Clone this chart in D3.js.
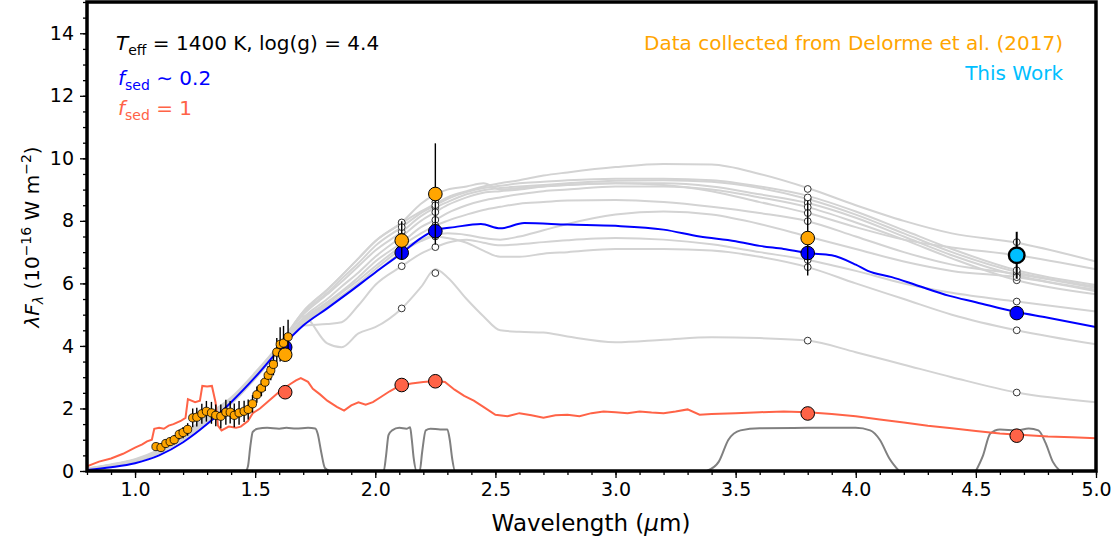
<!DOCTYPE html>
<html><head><meta charset="utf-8">
<script src="https://cdn.jsdelivr.net/npm/d3@7"></script>
<style>
html,body{margin:0;padding:0;background:#fff;}
svg{display:block;font-family:"DejaVu Sans",sans-serif;}
</style></head>
<body><svg id="c" width="1117" height="541"></svg>
<script>
// ---------------- DATA ----------------
const modelGrid = [0.8,0.9,1.0,1.1,1.2,1.3,1.4,1.5,1.6,1.7,1.8,1.86,1.93,2.0,2.11,2.19,2.25,2.3,2.38,2.45,2.52,2.6,2.7,2.8,3.0,3.2,3.4,3.6,3.8,4.0,4.2,4.4,4.67,5.0];
const grayModel1  = [0.07,0.18,0.33,0.6,1.05,1.65,2.25,3.05,3.95, 5.1,5.8,6.25,6.8,7.35,7.93,8.3,8.55,8.75,8.95,9.1,9.2,9.3,9.45,9.55,9.72,9.82,9.8,9.5,9.05,8.5,8.0,7.6,7.3,6.7];
const grayModel2  = [0.08,0.2,0.36,0.66,1.12,1.72,2.3,3.1,4.0, 5.0,5.65,6.05,6.55,7.05,7.65,8.15,8.42,8.6,8.85,8.98,9.05,9.1,9.15,9.2,9.28,9.3,9.25,9.05,8.7,8.2,7.6,7.0,6.36,5.9];
const grayModel3  = [0.06,0.17,0.32,0.6,1.04,1.62,2.2,3.0,3.9, 4.9,5.5,5.9,6.35,6.85,7.5,8.0,8.28,8.5,8.75,8.9,8.95,9.0,9.1,9.15,9.2,9.2,9.1,8.85,8.57,8.1,7.5,6.9,6.26,5.8];
const grayModel4  = [0.07,0.19,0.35,0.64,1.1,1.7,2.28,3.08,3.98, 4.85,5.4,5.75,6.2,6.7,7.3,7.8,8.03,8.25,8.5,8.65,8.75,8.85,8.95,9.0,9.1,9.1,9.0,8.75,8.44,7.95,7.4,6.8,6.1,5.65];
const grayModel5  = [0.08,0.21,0.38,0.68,1.15,1.78,2.35,3.15,4.05, 5.1,5.8,6.25,6.8,7.35,7.95,8.55,8.85,9.0,9.1,9.2,9.0,9.05,9.1,9.15,9.2,9.15,8.95,8.6,8.25,7.8,7.4,7.15,6.9,6.45];
const grayModel6  = [0.06,0.16,0.3,0.58,1.0,1.58,2.15,2.95,3.85, 4.8,5.35,5.7,6.1,6.55,7.2,7.6,7.85,8.0,8.2,8.35,8.45,8.55,8.6,8.65,8.67,8.6,8.45,8.25,7.99,7.5,7.0,6.6,6.3,5.85];
const grayModel7  = [0.07,0.18,0.33,0.6,1.05,1.65,2.2,3.0,3.9, 4.65,4.7,4.76,5.3,5.95,6.55,6.95,7.16,7.3,7.4,7.3,7.22,7.25,7.32,7.38,7.45,7.4,7.25,7.0,6.75,6.4,6.0,5.7,5.42,5.1];
const grayModel8  = [0.06,0.17,0.31,0.58,1.02,1.6,2.18,2.98,3.92, 4.7,5.25,5.55,5.95,6.35,7.0,7.35,7.5,7.45,7.3,7.05,6.85,6.85,6.95,7.0,7.1,7.1,7.05,6.85,6.52,6.0,5.5,5.0,4.5,4.05];
const grayModel9  = [0.07,0.18,0.33,0.6,1.05,1.62,2.2,3.0,3.9, 4.95,4.08,3.96,4.4,4.6,5.2,5.88,6.45,6.2,5.5,4.95,4.5,4.45,4.43,4.3,4.12,4.2,4.28,4.25,4.17,3.8,3.4,3.0,2.51,2.2];
const grayModel10 = [0.07,0.18,0.34,0.62,1.07,1.67,2.27,3.07,3.97, 5.05,5.7,6.15,6.65,7.2,7.8,8.25,8.5,8.7,8.92,9.05,9.12,9.2,9.25,9.3,9.35,9.35,9.3,9.1,8.8,8.3,7.7,7.1,6.42,5.95];
const grayModel11 = [0.07,0.19,0.35,0.63,1.08,1.68,2.26,3.06,3.96, 4.75,5.3,5.6,6.0,6.45,7.1,7.4,7.55,7.6,7.55,7.45,7.4,7.5,7.7,7.9,8.2,8.3,8.2,7.9,7.5,7.1,6.7,6.4,6.2,5.75];
const grayModels = [grayModel1,grayModel2,grayModel3,grayModel4,grayModel5,grayModel6,grayModel7,grayModel8,grayModel9,grayModel10,grayModel11];

// synthetic photometry of the grey models (K1, K2, L', M')
const grayPhotWave = [2.11, 2.25, 3.8, 4.67];
const grayPhotK1 = [7.93,7.65,7.5,7.3,7.95,7.2,6.55,7.0,5.2,7.8,7.1];
const grayPhotK2 = [8.6,8.44,8.28,8.03,8.85,7.85,7.16,7.5,6.33,8.5,7.55];
const grayPhotL  = [9.02,8.7,8.57,8.44,8.25,7.99,6.75,6.52,4.17,8.75,7.5];
const grayPhotM  = [7.32,6.36,6.26,6.1,6.9,6.3,5.42,4.5,2.51,6.42,6.2];

// f_sed ~ 0.2 model (blue)
const blueWave = [0.8,0.9,1.0,1.1,1.2,1.3,1.4,1.5,1.6,1.7,1.8,1.885,2.0,2.11,2.19,2.25,2.33,2.44,2.52,2.62,2.8,3.0,3.2,3.35,3.5,3.6,3.7,3.8,3.9,4.0,4.05,4.15,4.25,4.39,4.5,4.66,4.8,5.0];
const blueFlux = [0.03,0.12,0.25,0.5,0.92,1.5,2.2,3.0,3.88,4.65,5.2,5.68,6.35,6.97,7.45,7.7,7.8,7.9,7.76,7.93,7.88,7.84,7.72,7.5,7.35,7.2,7.1,6.97,6.9,6.6,6.4,6.2,5.95,5.6,5.4,5.1,4.9,4.6];

// f_sed = 1 model (red)
const redWave = [0.8,0.85,0.9,0.95,1.0,1.03,1.05,1.07,1.08,1.1,1.12,1.14,1.16,1.19,1.21,1.22,1.25,1.27,1.28,1.3,1.32,1.335,1.345,1.36,1.39,1.42,1.44,1.47,1.49,1.52,1.55,1.58,1.61,1.64,1.67,1.69,1.72,1.74,1.77,1.8,1.84,1.87,1.9,1.93,1.96,1.99,2.02,2.06,2.1,2.15,2.2,2.25,2.29,2.33,2.37,2.41,2.45,2.5,2.55,2.6,2.65,2.7,2.75,2.8,2.85,2.9,2.95,3.0,3.05,3.1,3.15,3.2,3.25,3.3,3.35,3.4,3.5,3.6,3.7,3.8,3.9,4.0,4.1,4.2,4.3,4.4,4.5,4.6,4.7,4.8,4.9,5.0];
const redFlux = [0.15,0.3,0.4,0.55,0.75,0.85,0.95,1.0,1.35,1.38,1.35,1.45,1.5,1.6,1.7,2.3,2.2,2.25,2.72,2.7,2.72,2.2,1.45,1.3,1.42,1.38,1.42,1.6,1.85,2.0,2.2,2.4,2.6,2.75,2.9,2.97,2.85,2.63,2.45,2.25,2.05,1.93,2.1,2.2,2.12,2.2,2.35,2.55,2.72,2.8,2.85,2.88,2.85,2.6,2.4,2.25,2.05,1.8,1.75,1.85,1.78,1.7,1.78,1.8,1.75,1.85,1.9,1.88,1.85,1.9,1.87,1.85,1.9,1.97,1.8,1.82,1.85,1.88,1.9,1.88,1.82,1.75,1.65,1.55,1.45,1.37,1.28,1.2,1.15,1.1,1.08,1.05];

// filter transmission curves (H, K1, K2, L', M')
const filterHWave  = [1.44,1.46,1.47,1.48,1.49,1.51,1.55,1.6,1.63,1.67,1.72,1.75,1.76,1.775,1.79,1.81];
const filterHVal   = [0,0,0.15,0.8,1.25,1.35,1.38,1.35,1.38,1.36,1.38,1.36,1.2,0.6,0.1,0];
const filterK1Wave = [2.02,2.035,2.045,2.055,2.07,2.1,2.13,2.145,2.152,2.16,2.172,2.18];
const filterK1Val  = [0,0,0.5,1.15,1.3,1.38,1.35,1.4,1.0,0.4,0,0];
const filterK2Wave = [2.18,2.185,2.195,2.21,2.23,2.27,2.3,2.31,2.32,2.332,2.345];
const filterK2Val  = [0,0,0.6,1.3,1.35,1.33,1.33,1.0,0.4,0,0];
const filterLWave  = [3.38,3.43,3.47,3.52,3.6,3.8,4.0,4.06,4.1,4.14,4.18];
const filterLVal   = [0,0.3,1.0,1.3,1.37,1.38,1.38,1.3,1.0,0.4,0];
const filterMWave  = [4.5,4.53,4.56,4.6,4.67,4.72,4.76,4.79,4.82,4.85];
const filterMVal   = [0,0.5,1.2,1.33,1.3,1.36,1.3,0.9,0.3,0];

// Delorme et al. (2017) spectrum
const specWave = [1.087,1.108,1.128,1.146,1.163,1.184,1.200,1.219,1.240,1.257,1.278,1.297,1.318,1.336,1.357,1.378,1.396,1.413,1.433,1.454,1.471,1.489,1.507,1.526,1.541,1.554,1.565,1.576,1.590,1.604,1.618,1.637];
const specFlux = [0.78,0.75,0.88,0.94,1.00,1.17,1.23,1.33,1.70,1.72,1.83,1.91,1.86,1.78,1.75,1.88,1.88,1.78,1.86,1.91,1.97,2.15,2.44,2.65,2.84,3.06,3.22,3.41,3.80,4.05,4.09,4.29];
const specErr  = [0.12,0.12,0.13,0.14,0.15,0.16,0.18,0.2,0.3,0.3,0.32,0.33,0.35,0.35,0.38,0.4,0.36,0.38,0.38,0.34,0.32,0.28,0.26,0.26,0.28,0.3,0.32,0.35,0.45,0.55,0.55,0.55];

// photometry
const photWave = [1.625, 2.11, 2.25, 3.8, 4.67];
const delormeWave = [1.625, 2.11, 2.25, 3.8];
const delormeFlux = [3.72, 7.37, 8.86, 7.45];
const delormeErr  = [0.12, 0.62, 1.62, 1.2];
const bluePhot = [3.96, 6.98, 7.67, 6.97, 5.05];
const redPhot  = [2.52, 2.75, 2.87, 1.84, 1.13];
const thisWorkWave = [4.67];
const thisWorkFlux = [6.9];
const thisWorkErr  = [0.75];

const xTicks = [1.0,1.5,2.0,2.5,3.0,3.5,4.0,4.5,5.0];
const yTicks = [0,2,4,6,8,10,12,14];

// ---------------- DRAW ----------------
const svg = d3.select("#c");
const x = d3.scaleLinear().domain([0.8, 5.0]).range([87, 1096]);
const y = d3.scaleLinear().domain([0, 15]).range([471, 2]);

svg.append("defs").append("clipPath").attr("id","clip")
  .append("rect").attr("x",87).attr("y",2).attr("width",1009).attr("height",469);

const plot = svg.append("g").attr("clip-path","url(#clip)");
const lineOf = (curve) => d3.line().x(d=>x(d[0])).y(d=>y(d[1])).curve(curve);
const zip = (a,b) => a.map((v,i)=>[v,b[i]]);

grayModels.forEach(m=>{
  plot.append("path").attr("d", lineOf(d3.curveMonotoneX)(zip(modelGrid,m)))
    .attr("fill","none").attr("stroke","#d3d3d3").attr("stroke-width",2);
});
[[filterHWave,filterHVal],[filterK1Wave,filterK1Val],[filterK2Wave,filterK2Val],[filterLWave,filterLVal],[filterMWave,filterMVal]].forEach(f=>{
  plot.append("path").attr("d", lineOf(d3.curveMonotoneX)(zip(f[0],f[1])))
    .attr("fill","none").attr("stroke","#808080").attr("stroke-width",2);
});
plot.append("path").attr("d", lineOf(d3.curveMonotoneX)(zip(blueWave,blueFlux)))
  .attr("fill","none").attr("stroke","#0000ff").attr("stroke-width",2);
plot.append("path").attr("d", lineOf(d3.curveLinear)(zip(redWave,redFlux)))
  .attr("fill","none").attr("stroke","#ff6347").attr("stroke-width",2);

[grayPhotK1,grayPhotK2,grayPhotL,grayPhotM].forEach((arr,bi)=>{
  arr.forEach(v=>{
    plot.append("circle").attr("cx",x(grayPhotWave[bi])).attr("cy",y(v)).attr("r",3.4)
      .attr("fill","#fff").attr("stroke","#333").attr("stroke-width",1);
  });
});
bluePhot.forEach((v,i)=>{
  plot.append("circle").attr("cx",x(photWave[i])).attr("cy",y(v)).attr("r",6.8)
    .attr("fill","#0000ff").attr("stroke","#000").attr("stroke-width",1);
});
redPhot.forEach((v,i)=>{
  plot.append("circle").attr("cx",x(photWave[i])).attr("cy",y(v)).attr("r",6.8)
    .attr("fill","#ff6347").attr("stroke","#000").attr("stroke-width",1);
});
specWave.forEach((w,i)=>{
  plot.append("line").attr("x1",x(w)).attr("x2",x(w))
    .attr("y1",y(specFlux[i]-specErr[i])).attr("y2",y(specFlux[i]+specErr[i]))
    .attr("stroke","#000").attr("stroke-width",1.4);
});
specWave.forEach((w,i)=>{
  plot.append("circle").attr("cx",x(w)).attr("cy",y(specFlux[i])).attr("r",4.1)
    .attr("fill","#ffa500").attr("stroke","#000").attr("stroke-width",0.8);
});
delormeWave.forEach((w,i)=>{
  plot.append("line").attr("x1",x(w)).attr("x2",x(w))
    .attr("y1",y(delormeFlux[i]-delormeErr[i])).attr("y2",y(delormeFlux[i]+delormeErr[i]))
    .attr("stroke","#000").attr("stroke-width",1.4);
  plot.append("circle").attr("cx",x(w)).attr("cy",y(delormeFlux[i])).attr("r",6.8)
    .attr("fill","#ffa500").attr("stroke","#000").attr("stroke-width",1);
});
thisWorkWave.forEach((w,i)=>{
  plot.append("line").attr("x1",x(w)).attr("x2",x(w))
    .attr("y1",y(thisWorkFlux[i]-thisWorkErr[i])).attr("y2",y(thisWorkFlux[i]+thisWorkErr[i]))
    .attr("stroke","#000").attr("stroke-width",2);
  plot.append("circle").attr("cx",x(w)).attr("cy",y(thisWorkFlux[i])).attr("r",7.8)
    .attr("fill","#00bfff").attr("stroke","#000").attr("stroke-width",2.4);
});

// axes
const fs = 19;
const xMajor = svg.append("g").attr("transform","translate(0,471)")
  .call(d3.axisBottom(x).tickValues(xTicks).tickFormat(d3.format(".1f")).tickSize(7).tickPadding(5));
const xMinor = svg.append("g").attr("transform","translate(0,471)")
  .call(d3.axisBottom(x).tickValues(d3.range(8,51).map(d=>d/10)).tickFormat("").tickSize(4));
const yMajor = svg.append("g").attr("transform","translate(87,0)")
  .call(d3.axisLeft(y).tickValues(yTicks).tickFormat(d3.format("d")).tickSize(7).tickPadding(6));
const yMinor = svg.append("g").attr("transform","translate(87,0)")
  .call(d3.axisLeft(y).tickValues(d3.range(0,31).map(d=>d/2)).tickFormat("").tickSize(4));
[xMajor,xMinor,yMajor,yMinor].forEach(g=>{
  g.select(".domain").remove();
  g.selectAll("line").attr("stroke","#000").attr("stroke-width",1.3);
  g.selectAll("text").attr("font-size",fs).attr("font-family","DejaVu Sans").attr("fill","#000");
});

svg.append("rect").attr("x",87).attr("y",2).attr("width",1009).attr("height",469)
  .attr("fill","none").attr("stroke","#000").attr("stroke-width",3.5);

// axis labels
const xl = svg.append("text").attr("x",591).attr("y",531).attr("text-anchor","middle")
  .attr("font-size",23).attr("fill","#000");
xl.append("tspan").text("Wavelength (");
xl.append("tspan").attr("font-style","italic").text("μ");
xl.append("tspan").text("m)");

const yl = svg.append("text").attr("transform","translate(39,237) rotate(-90)")
  .attr("text-anchor","middle").attr("font-size",20).attr("fill","#000");
yl.append("tspan").attr("font-style","italic").text("λF");
yl.append("tspan").attr("font-style","italic").attr("font-size",14).attr("dy",4).text("λ");
yl.append("tspan").attr("dy",-4).text(" (10");
yl.append("tspan").attr("font-size",14).attr("dy",-8).text("−16");
yl.append("tspan").attr("dy",8).text(" W m");
yl.append("tspan").attr("font-size",14).attr("dy",-8).text("−2");
yl.append("tspan").attr("dy",8).text(")");

// annotations
const t1 = svg.append("text").attr("x",116).attr("y",50).attr("font-size",20).attr("fill","#000");
t1.append("tspan").attr("font-style","italic").text("T");
t1.append("tspan").attr("font-size",14).attr("dy",5).text("eff");
t1.append("tspan").attr("dy",-5).text(" = 1400 K, log(g) = 4.4");

const t2 = svg.append("text").attr("x",118).attr("y",85).attr("font-size",20).attr("fill","#0000ff");
t2.append("tspan").attr("font-style","italic").text("f");
t2.append("tspan").attr("font-size",14).attr("dy",5).text("sed");
t2.append("tspan").attr("dy",-5).text(" ∼  0.2");

const t3 = svg.append("text").attr("x",118).attr("y",115).attr("font-size",20).attr("fill","#ff6347");
t3.append("tspan").attr("font-style","italic").text("f");
t3.append("tspan").attr("font-size",14).attr("dy",5).text("sed");
t3.append("tspan").attr("dy",-5).text(" = 1");

svg.append("text").attr("x",1063).attr("y",50).attr("text-anchor","end").attr("font-size",20)
  .attr("fill","#ffa500").text("Data collected from Delorme et al. (2017)");
svg.append("text").attr("x",1063).attr("y",80).attr("text-anchor","end").attr("font-size",20)
  .attr("fill","#00bfff").text("This Work");
</script>
</body></html>
